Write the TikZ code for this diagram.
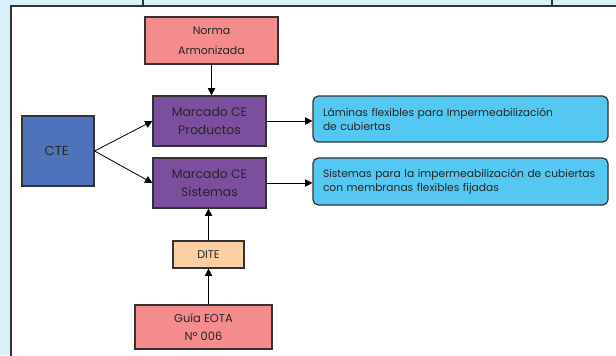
\documentclass[tikz,border=0pt]{standalone}
\usepackage{fontspec}
\setmainfont{Poppins}
\usetikzlibrary{arrows.meta}
\definecolor{bgblue}{HTML}{D9F0FA}
\definecolor{pinkbox}{HTML}{F48C8E}
\definecolor{purplebox}{HTML}{7B4F9E}
\definecolor{ctebox}{HTML}{4F73BA}
\definecolor{skybox}{HTML}{55C8F2}
\definecolor{ditebox}{HTML}{FBCFA3}
\definecolor{edgegray}{HTML}{333333}
\tikzset{
  px/.style 2 args={minimum width=#1*0.75pt, minimum height=#2*0.75pt},
  plainbox/.style={draw=edgegray, line width=0.9pt, inner sep=0pt, align=center, text=black!85},
  pinknode/.style={plainbox, fill=pinkbox, font=\fontsize{8.2}{15}\selectfont},
  purplenode/.style={plainbox, fill=purplebox, font=\fontsize{9.3}{14}\selectfont},
  ctenode/.style={plainbox, fill=ctebox, font=\fontsize{9.8}{12}\selectfont},
  skynode/.style={draw=edgegray, line width=0.9pt, fill=skybox, rounded corners=4pt, inner sep=0pt, text=black!85, font=\fontsize{8}{10.5}\selectfont},
  ditenode/.style={plainbox, fill=ditebox, font=\fontsize{8.4}{10}\selectfont},
  arr/.style={-{Triangle[length=5.5pt,width=5.5pt]}, line width=0.6pt, black},
}
\begin{document}
\begin{tikzpicture}[x=0.75pt,y=-0.75pt]
\useasboundingbox (0,0) rectangle (616,355);
\fill[bgblue] (0,0) rectangle (616,355);
\draw[edgegray, line width=0.9pt] (143,0) -- (143,6);
\draw[edgegray, line width=0.9pt] (552,0) -- (552,6);
\draw[edgegray, line width=1.3pt, fill=white] (11,370) -- (11,6) -- (630,6);
\fill[white] (11.9,6.9) rectangle (630,370);

\node[pinknode, px={133}{47}] (norma) at (211.5,40.5) {Norma\\Armonizada};
\node[purplenode, px={113}{50}] (mp) at (209.5,121) {Marcado CE\\Productos};
\node[purplenode, px={113}{50}] (ms) at (209.5,183) {Marcado CE\\Sistemas};
\node[ctenode, px={72}{70}] (cte) at (58,151) {CTE\kern2pt};
\node[skynode, px={295}{46}, text width=275*0.75pt, align=left] (b1) at (460.5,119) {Láminas flexibles para Impermeabilización\\de cubiertas};
\node[skynode, px={295}{47}, text width=275*0.75pt, align=left] (b2) at (460.5,181.5) {Sistemas para la impermeabilización de cubiertas\\con membranas flexibles fijadas};
\node[ditenode, px={71}{27}] (dite) at (208.5,254.5) {DITE};
\node[pinknode, px={137}{44}, font=\fontsize{8.6}{13}\selectfont] (guia) at (203.5,327) {Guía EOTA\\Nº 006};

\draw[arr] (norma.south) -- (norma.south |- mp.north);
\draw[arr] (cte.east) -- (mp.west);
\draw[arr] (cte.east) -- (ms.west);
\draw[arr] (mp.east) -- (mp.east -| b1.west);
\draw[arr] (ms.east) -- (ms.east -| b2.west);
\draw[arr] (dite.north) -- (dite.north |- ms.south);
\draw[arr] (dite.south |- guia.north) -- (dite.south);
\end{tikzpicture}
\end{document}
